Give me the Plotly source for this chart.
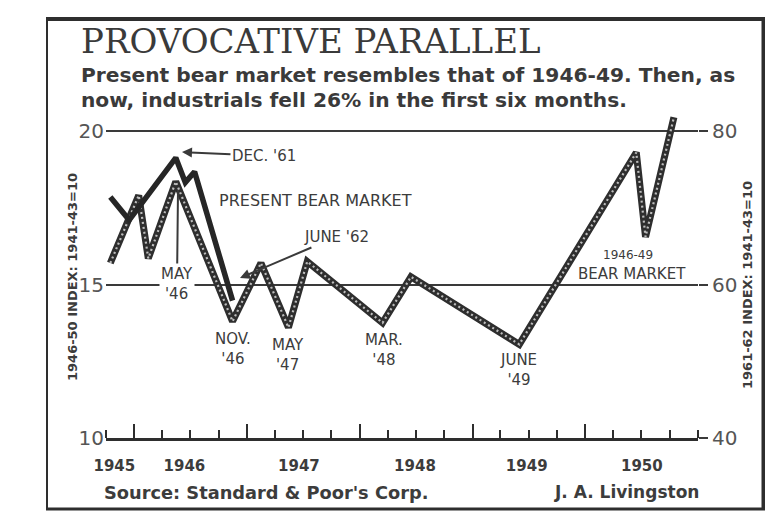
import plotly.graph_objects as go
import pandas as pd

# ---------------- data ----------------
# 1946-49 bear market, S&P industrials (1941-43 = 10), left scale
bear4649_dates = ["1945-10-15", "1946-01-15", "1946-02-15", "1946-05-15", "1946-11-15",
                  "1947-02-15", "1947-05-15", "1947-07-15", "1948-03-15", "1948-06-15",
                  "1949-06-01", "1950-06-15", "1950-07-15", "1950-10-15"]
bear4649_values = [15.7, 17.9, 15.85, 18.35, 13.8,
                   15.7, 13.6, 15.75, 13.75, 15.25,
                   13.05, 19.3, 16.55, 20.45]

# present bear market 1961-62, S&P industrials (1941-43 = 10), right scale
present_dates = ["1961-05-15", "1961-07-15", "1961-12-15", "1962-01-15", "1962-02-15", "1962-06-15"]
present_values = [71.4, 68.4, 76.5, 73.3, 74.7, 57.9]
ALIGN_MONTHS = 187  # Dec '61 is drawn over May '46

left_ticks = [10, 15, 20]
right_ticks = [40, 60, 80]
year_labels = ["1945", "1946", "1947", "1948", "1949", "1950"]
year_label_pos = ["1945-10-28", "1946-06-12", "1947-06-18", "1948-06-28", "1949-06-25", "1950-07-03"]
year_bounds = ["1946-01-01", "1947-01-01", "1948-01-01", "1949-01-01", "1950-01-01", "1951-01-01"]
X_RANGE = ["1945-10-01", "1951-01-01"]

# ---------------- geometry helpers ----------------
W_FIG, H_FIG = 775, 516
L, R, T, B = 106, 77, 103, 78
PW = W_FIG - L - R
PH = H_FIG - T - B
PX_PER_UNIT = 30.7
Y_TOP = 10 + PH / PX_PER_UNIT


def px_x(x):
    return (x - L) / PW


def px_y(y):
    return (H_FIG - B - y) / PH


INK = "#2e2e2e"
TXT = "#3c3c3c"
SANS = "DejaVu Sans"

present_x = pd.to_datetime(present_dates) - pd.DateOffset(months=ALIGN_MONTHS)

fig = go.Figure()
# beaded line for 1946-49
fig.add_trace(go.Scatter(x=bear4649_dates, y=bear4649_values, mode="lines",
                         line=dict(color=INK, width=7), hoverinfo="skip", showlegend=False))
fig.add_trace(go.Scatter(x=bear4649_dates, y=bear4649_values, mode="lines",
                         line=dict(color="#bdbdbd", width=2.2, dash="2px,3px"),
                         hoverinfo="skip", showlegend=False))
# present bear market (right scale)
fig.add_trace(go.Scatter(x=present_x, y=present_values, mode="lines", yaxis="y2",
                         line=dict(color="#262626", width=5.5), hoverinfo="skip", showlegend=False))
# carrier for long year ticks axis
fig.add_trace(go.Scatter(x=[X_RANGE[0]], y=[10], xaxis="x2", mode="markers",
                         marker=dict(opacity=0), hoverinfo="skip", showlegend=False))

fig.update_layout(
    width=W_FIG, height=H_FIG,
    margin=dict(l=L, r=R, t=T, b=B),
    paper_bgcolor="white", plot_bgcolor="white",
    xaxis=dict(type="date", range=X_RANGE, showline=True, linecolor=INK, linewidth=2.5,
               tickmode="array", tickvals=year_label_pos, ticktext=year_labels, ticks="",
               tickfont=dict(family=SANS, size=15, color=TXT, weight="bold"),
               ticklabelstandoff=12, showgrid=False, zeroline=False, automargin=False,
               minor=dict(ticks="inside", ticklen=8, tickwidth=2, tickcolor=INK,
                          tickmode="linear", tick0="1945-10-01", dtick="M3", showgrid=False)),
    xaxis2=dict(type="date", range=X_RANGE, overlaying="x", anchor="y", side="bottom",
                tickmode="array", tickvals=year_bounds, ticks="inside", ticklen=14, tickwidth=2,
                tickcolor=INK, showticklabels=False, showgrid=False, showline=False,
                zeroline=False, automargin=False),
    yaxis=dict(range=[10, Y_TOP], tickmode="array", tickvals=left_ticks,
               ticktext=[str(v) for v in left_ticks], showgrid=True, gridcolor="#3a3a3a",
               gridwidth=2.2, zeroline=False, showline=False, ticks="",
               tickfont=dict(family=SANS, size=20, color="#555"), automargin=False,
               ticklabelstandoff=1),
    yaxis2=dict(range=[40, Y_TOP * 4], overlaying="y", side="right", tickmode="array",
                tickvals=right_ticks, ticktext=[str(v) for v in right_ticks], showgrid=False,
                zeroline=False, showline=False, ticks="outside", ticklen=9, tickwidth=2,
                tickcolor="#3a3a3a", tickfont=dict(family=SANS, size=20, color="#555"),
                automargin=False),
)

FX0, FX1, FY0, FY1 = 47, 763, 19, 509


def bar(x0, x1, y0, y1):
    return dict(type="rect", xref="paper", yref="paper", x0=px_x(x0), x1=px_x(x1),
                y0=px_y(y1), y1=px_y(y0), fillcolor=INK, line=dict(width=0), layer="above")


shapes = [
    bar(FX0 - 1, FX1 + 2, FY0 - 2, FY0 + 2),      # top
    bar(FX0 - 1, FX1 + 2, FY1 - 1.5, FY1 + 1.5),  # bottom
    bar(FX0 - 1, FX0 + 1, FY0, FY1),              # left
    bar(FX1 - 1.5, FX1 + 2, FY0, FY1),            # right
]
fig.update_layout(shapes=shapes)

ann = []


def text(s, x, y, size, xanchor="center", color=TXT, family=SANS, weight="normal", **kw):
    ann.append(dict(text=s, xref="paper", yref="paper", x=px_x(x), y=px_y(y),
                    xanchor=xanchor, yanchor="middle", showarrow=False,
                    font=dict(family=family, size=size, color=color, weight=weight), **kw))


text("PROVOCATIVE PARALLEL", 79, 41, 34, xanchor="left", family="DejaVu Serif", color="#3a3a3a")
text("Present bear market resembles that of 1946-49. Then, as", 79, 75, 20.2, xanchor="left",
     weight="bold", color="#3a3a3a")
text("now, industrials fell 26% in the first six months.", 79, 100, 20.2, xanchor="left",
     weight="bold", color="#3a3a3a")

text("PRESENT BEAR MARKET", 315, 200, 16)
text("NOV.<br>'46", 233, 349, 15)
text("MAY<br>'47", 288, 355, 15)
text("MAR.<br>'48", 384, 350, 15)
text("JUNE<br>'49", 518, 370, 15)
text("1946-49", 628, 255, 12)
text("BEAR MARKET", 632, 274, 15)

text("Source: Standard & Poor's Corp.", 102, 492, 17.8, xanchor="left", weight="bold")
text("J. A. Livingston", 701, 492, 17, xanchor="right", weight="bold")

text("1946-50 INDEX: 1941-43=10", 72, 277, 13, weight="bold", textangle=-90)
text("1961-62 INDEX: 1941-43=10", 747, 285, 13, weight="bold", textangle=-90)


def arrow(s, tipx, tipy, cx, cy, head=2, bg=None):
    d = dict(text=s, xref="paper", yref="paper", x=px_x(tipx), y=px_y(tipy),
             ax=cx - tipx, ay=cy - tipy, showarrow=True, arrowhead=head, arrowsize=1,
             arrowwidth=2, arrowcolor="#3a3a3a", standoff=0,
             font=dict(family=SANS, size=15, color=TXT))
    if bg:
        d["bgcolor"] = bg
    ann.append(d)


arrow("DEC. '61", 182, 152, 264, 156)
arrow("JUNE '62", 240, 278, 336, 237)
arrow("MAY<br>'46", 178, 190, 177, 284, head=0, bg="white")

fig.update_layout(annotations=ann)

fig.write_html(
    "out.html", config={"displayModeBar": False},
    post_script=("document.documentElement.style.overflow='hidden';"
                 "document.body.style.margin='0';document.body.style.overflow='hidden';"),
)
